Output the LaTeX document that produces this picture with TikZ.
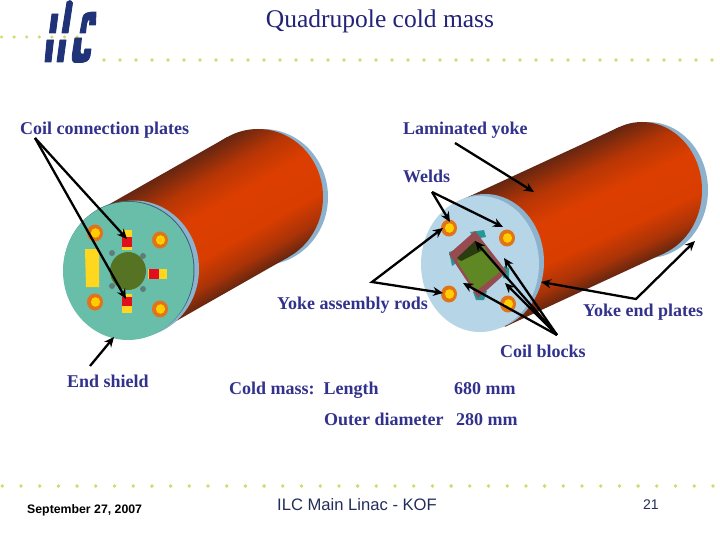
\documentclass[tikz,border=0pt]{standalone}
\usepackage{fontspec}
\setmainfont{Liberation Serif}
\newfontfamily\sansf{Liberation Sans}
\usetikzlibrary{arrows.meta}
\definecolor{labelblue}{RGB}{50,50,140}
\definecolor{titleblue}{RGB}{35,35,120}
\definecolor{footblue}{RGB}{35,45,90}
\definecolor{dotgreen}{RGB}{205,220,110}
\definecolor{logoblue}{RGB}{32,50,120}
\definecolor{ringblue}{RGB}{140,178,205}
\definecolor{paleface}{RGB}{182,213,231}
\definecolor{tealface}{RGB}{105,190,170}
\definecolor{tealline}{RGB}{50,110,115}
\definecolor{boltorange}{RGB}{225,115,25}
\definecolor{boltyellow}{RGB}{255,205,0}
\definecolor{coregreen}{RGB}{85,115,35}
\definecolor{plateyellow}{RGB}{255,215,30}
\definecolor{platered}{RGB}{225,15,30}
\definecolor{pingrey}{RGB}{95,125,120}
\definecolor{maroon}{RGB}{150,75,80}
\definecolor{coilteal}{RGB}{40,150,150}
\definecolor{innergreen}{RGB}{95,135,35}
\pgfdeclareverticalshading{cylshade}{100bp}{rgb(0bp)=(0.40,0.15,0.06);rgb(25bp)=(0.40,0.15,0.06);rgb(31bp)=(0.66,0.20,0.03);rgb(40bp)=(0.85,0.24,0);rgb(55bp)=(0.86,0.245,0);rgb(65bp)=(0.72,0.21,0.02);rgb(72bp)=(0.50,0.17,0.05);rgb(75bp)=(0.40,0.15,0.07);rgb(100bp)=(0.40,0.15,0.07)}
\tikzset{
  txt/.style={anchor=base west,inner sep=0pt,text=labelblue,font=\fontsize{18}{18}\selectfont\bfseries},
  pointer/.style={draw=black,line width=2.3pt,-{Stealth[length=10pt,width=9pt]}},
  pointerb/.style={draw=black,line width=2.3pt,{Stealth[length=10pt,width=9pt]}-{Stealth[length=10pt,width=9pt]}},
  dot/.style={fill=dotgreen,draw=none},
  logo/.style={fill=logoblue,draw=logoblue,line width=0.9pt,line join=round},
}
\newcommand{\bolt}[2]{%
  \fill[boltorange] (#1,#2) ellipse [x radius=8,y radius=8.5];
  \fill[boltyellow] (#1+0.5,#2) ellipse [x radius=4.6,y radius=4.8];}
\begin{document}
\begin{tikzpicture}[x=1pt,y=-1pt]
\useasboundingbox (0,0) rectangle (720,540);
\fill[white] (0,0) rectangle (720,540);
% dotted rules
\foreach \i in {0,...,6} \fill[dot] (1.5+12.6*\i,37) circle (1.7);
\foreach \i in {0,...,38} \fill[dot] (104+16*\i,60) circle (1.9);
\foreach \i in {0,...,38} \fill[dot] (2.3+18.7*\i,486) circle (1.9);
% logo
\path[logo] (52,14) -- (58,14) -- (55.5,33) -- (49.5,33) -- cycle;
\path[logo] (47,40) -- (53.5,40) -- (51,62) -- (45,62) -- cycle;
\path[logo] (67,2) .. controls (69,0) and (71,0) .. (72.5,3) -- (68,33) -- (62,33) -- cycle;
\path[logo] (60,40) -- (66,40) -- (63,62) -- (57,62) -- cycle;
\path[logo] (80,33) -- (83,17) .. controls (84,13) and (88,12) .. (96,12) -- (95.5,25) -- (89.5,25) -- (90,19) .. controls (88,19) and (87,21) .. (86.5,24) -- (85.5,33) -- cycle;
\path[logo] (75,38) -- (81.5,38) -- (80,52) .. controls (80,54) and (82,55) .. (84,54) -- (85,49) -- (91,49) -- (90,56) .. controls (89,61) and (85,62.5) .. (80,62.5) -- (75,62.5) .. controls (72,62.5) and (72,58) .. (72.5,54) -- cycle;
\foreach \i in {3,4,5} \fill[dot] (1.5+12.6*\i,37) circle (1.3);
% LEFT cylinder
\fill[ringblue] (263,197) ellipse [x radius=65,y radius=68];
\begin{scope}
  \clip (97,211) -- (227,137) -- (289,257) -- (159,331) -- cycle;
  \begin{scope}[transform canvas={shift={(193,234)},rotate=29.65}]
    \shade[shading=cylshade] (-175,-67.3) rectangle (175,67.3);
  \end{scope}
\end{scope}
\begin{scope}
  \clip (258,197) ellipse [x radius=65,y radius=68];
  \begin{scope}[transform canvas={shift={(193,234)},rotate=29.65}]
    \shade[shading=cylshade] (-175,-67.3) rectangle (175,67.3);
  \end{scope}
\end{scope}
\fill[ringblue] (134,269) ellipse [x radius=65,y radius=68.5];
\draw[tealline,line width=1pt] (129,270) ellipse [x radius=65,y radius=68.5];
\fill[tealface] (128,271) ellipse [x radius=65,y radius=69];
\fill[coregreen] (128,271) ellipse [x radius=18,y radius=19];
\fill[pingrey] (112,253) circle (3) (143,256) circle (3) (112,286) circle (3) (143,289) circle (3);
\bolt{95}{233}\bolt{160}{240}\bolt{95}{302}\bolt{160}{309}
\fill[plateyellow] (85,249) -- (99,249) -- (99,287) -- (86,287) -- cycle;
\fill[plateyellow] (122,230) rectangle (132,250);
\fill[platered] (122,237) rectangle (132,247);
\fill[plateyellow] (122,294) rectangle (132,313);
\fill[platered] (122,297) rectangle (132,306);
\fill[plateyellow] (148,269) rectangle (167,279);
\fill[platered] (149,269) rectangle (159,279);
% RIGHT cylinder
\fill[ringblue] (648,190) ellipse [x radius=60,y radius=68];
\begin{scope}
  \clip (459,201) -- (619,127) -- (665,253) -- (505,327) -- cycle;
  \begin{scope}[transform canvas={shift={(562,227)},rotate=24.8}]
    \shade[shading=cylshade] (-200,-66.7) rectangle (200,66.7);
  \end{scope}
\end{scope}
\begin{scope}
  \clip (642,190) ellipse [x radius=60,y radius=68];
  \begin{scope}[transform canvas={shift={(562,227)},rotate=24.8}]
    \shade[shading=cylshade] (-200,-66.7) rectangle (200,66.7);
  \end{scope}
\end{scope}
\fill[ringblue] (485,262) ellipse [x radius=59,y radius=68];
\fill[paleface] (480,264) ellipse [x radius=59,y radius=68];
\bolt{449}{228}\bolt{507}{238}\bolt{449}{294}\bolt{508}{304}
% coil pack
\fill[coilteal] (470,232) -- (484,230) -- (486,237) -- (474,239) -- cycle;
\fill[coilteal] (449,252) -- (455,250) -- (458,262) -- (452,266) -- cycle;
\fill[coilteal] (504,266) -- (509,268) -- (509,279) -- (503,278) -- cycle;
\fill[coilteal] (473,292) -- (487,291) -- (484,300) -- (476,300) -- cycle;
\fill[maroon] (475,231) -- (507,272) -- (478,298) -- (449,254) -- cycle;
\fill[innergreen] (457,261) -- (482,243) -- (500,272) -- (476,291) -- cycle;
\fill[black!55!innergreen] (457,258) -- (475,241) -- (483,250) -- (461,261) -- cycle;
% anchors for pointers
\coordinate (coilsrc) at (35,138);
\coordinate (coiltipa) at (127,239);
\coordinate (coiltipb) at (126,299);
\coordinate (shieldsrc) at (90,366);
\coordinate (shieldtip) at (114,337);
\coordinate (yokesrc) at (455,143);
\coordinate (yoketip) at (534,192);
\coordinate (weldsrc) at (432,192);
\coordinate (weldtipa) at (450,222);
\coordinate (weldtipb) at (503,227);
\coordinate (rodbend) at (372,282);
\coordinate (rodtipa) at (443,228);
\coordinate (rodtipb) at (443,293);
\coordinate (endbend) at (636,299);
\coordinate (endtipa) at (541,282);
\coordinate (endtipb) at (695,241);
\coordinate (blocksrc) at (557,335);
\coordinate (blocktipa) at (475,241);
\coordinate (blocktipb) at (504,258);
\coordinate (blocktipc) at (505,283);
\coordinate (blocktipd) at (463,283);
\draw[pointer] (coilsrc) -- (coiltipa);
\draw[pointer] (coilsrc) -- (coiltipb);
\draw[pointer] (shieldsrc) -- (shieldtip);
\draw[pointer] (yokesrc) -- (yoketip);
\draw[pointer] (weldsrc) -- (weldtipa);
\draw[pointer] (weldsrc) -- (weldtipb);
\draw[pointerb] (rodtipa) -- (rodbend) -- (rodtipb);
\draw[pointerb] (endtipa) -- (endbend) -- (endtipb);
\draw[pointer] (blocksrc) -- (blocktipa);
\draw[pointer] (blocksrc) -- (blocktipb);
\draw[pointer] (blocksrc) -- (blocktipc);
\draw[pointer] (blocksrc) -- (blocktipd);
% texts
\node[txt,text=titleblue,anchor=base,font=\fontsize{25.5}{25.5}\selectfont] (title) at (380,28) {Quadrupole cold mass};
\node[txt] (coil) at (20,135) {Coil connection plates};
\node[txt] (lam) at (403,135) {Laminated yoke};
\node[txt] (welds) at (403,183) {Welds};
\node[txt] (rods) at (277,309) {Yoke assembly rods};
\node[txt] (plates) at (583,316) {Yoke end plates};
\node[txt] (blocks) at (500,357) {Coil blocks};
\node[txt] (shield) at (67,387) {End shield};
\node[txt] (cold) at (229,394) {Cold mass:\hspace{9pt}Length};
\node[txt] (len) at (454,394) {680 mm};
\node[txt] (outer) at (324,425) {Outer diameter};
\node[txt] (dia) at (456,425) {280 mm};
\node[anchor=base west,inner sep=0pt,text=black,font=\sansf\fontsize{12.3}{12}\selectfont\bfseries] (date) at (27,513) {September 27, 2007};
\node[anchor=base west,inner sep=0pt,text=footblue,font=\sansf\fontsize{16.6}{16}\selectfont] (foot) at (277,510) {ILC Main Linac - KOF};
\node[anchor=base west,inner sep=0pt,text=footblue,font=\sansf\fontsize{14}{14}\selectfont] (page) at (643,509) {21};
\end{tikzpicture}
\end{document}
